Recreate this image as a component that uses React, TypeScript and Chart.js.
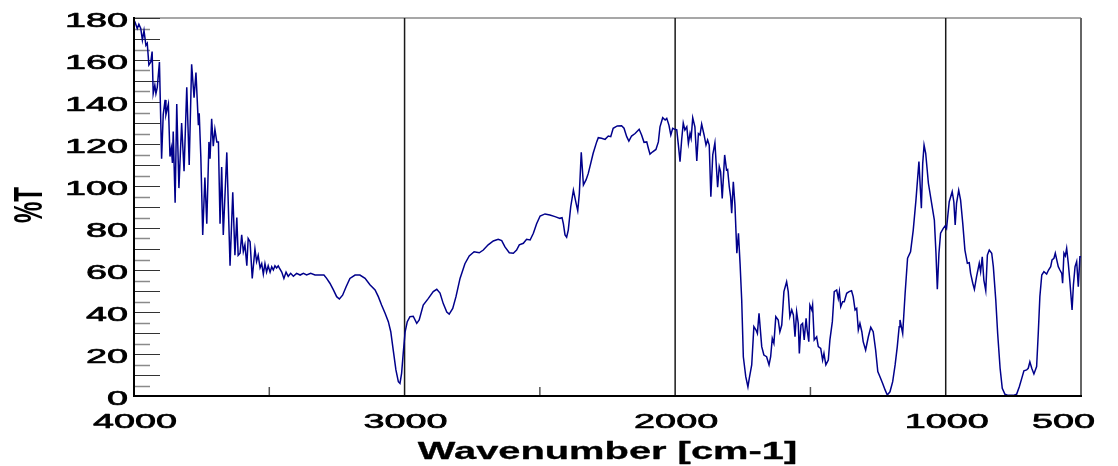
import React, { useEffect, useRef } from 'react';
import { Chart, registerables } from 'chart.js';

Chart.register(...registerables);

// Wavenumber (cm-1), descending
const wavenumbers = [
  4000, 3996, 3988, 3982, 3975, 3969, 3963, 3956, 3951, 3945, 3938, 3933, 3929, 3923, 3919, 3914, 3906, 3898, 3892, 3885,
  3882, 3873, 3867, 3862, 3858, 3855, 3848, 3842, 3834, 3824, 3815, 3805, 3796, 3787, 3778, 3771, 3762, 3759, 3753, 3746,
  3738, 3731, 3723, 3719, 3713, 3707, 3701, 3694, 3688, 3682, 3676, 3670, 3657, 3645, 3635, 3627, 3620, 3615, 3608, 3602,
  3596, 3590, 3583, 3578, 3571, 3563, 3553, 3547, 3541, 3534, 3528, 3522, 3516, 3510, 3504, 3497, 3491, 3485, 3479, 3473,
  3467, 3463, 3454, 3446, 3438, 3430, 3421, 3411, 3399, 3386, 3374, 3362, 3347, 3331, 3313, 3298, 3288, 3276, 3263, 3251,
  3241, 3229, 3216, 3202, 3183, 3165, 3146, 3128, 3109, 3097, 3085, 3072, 3060, 3051, 3042, 3032, 3023, 3017, 3011, 3005,
  2998, 2990, 2980, 2968, 2955, 2946, 2931, 2912, 2894, 2881, 2869, 2857, 2844, 2835, 2822, 2810, 2795, 2777, 2761, 2743,
  2724, 2709, 2691, 2672, 2654, 2641, 2629, 2613, 2598, 2586, 2576, 2561, 2549, 2536, 2524, 2512, 2499, 2481, 2463, 2444,
  2426, 2418, 2413, 2407, 2401, 2395, 2386, 2376, 2366, 2360, 2354, 2347, 2339, 2329, 2321, 2312, 2303, 2290, 2284, 2272,
  2259, 2247, 2238, 2229, 2214, 2198, 2189, 2179, 2171, 2161, 2148, 2133, 2124, 2115, 2105, 2099, 2093, 2083, 2071, 2062,
  2056, 2046, 2037, 2031, 2023, 2016, 2009, 2001, 1994, 1988, 1982, 1976, 1970, 1964, 1957, 1951, 1945, 1941, 1935, 1927,
  1920, 1914, 1908, 1902, 1893, 1886, 1880, 1874, 1868, 1861, 1853, 1843, 1837, 1832, 1826, 1817, 1810, 1806, 1800, 1795,
  1791, 1785, 1779, 1772, 1766, 1760, 1754, 1748, 1739, 1731, 1726, 1717, 1709, 1701, 1696, 1690, 1680, 1672, 1662, 1653,
  1647, 1641, 1635, 1628, 1619, 1613, 1606, 1598, 1588, 1582, 1576, 1569, 1563, 1557, 1551, 1545, 1541, 1535, 1529, 1523,
  1516, 1512, 1506, 1502, 1495, 1492, 1486, 1477, 1471, 1462, 1455, 1450, 1443, 1434, 1428, 1419, 1412, 1403, 1397, 1393,
  1388, 1381, 1375, 1366, 1357, 1348, 1342, 1335, 1329, 1323, 1317, 1310, 1305, 1296, 1286, 1277, 1268, 1259, 1251, 1243,
  1233, 1224, 1216, 1206, 1196, 1187, 1179, 1172, 1169, 1159, 1150, 1141, 1130, 1120, 1110, 1099, 1090, 1085, 1080, 1074,
  1064, 1052, 1042, 1036, 1031, 1025, 1019, 1009, 1002, 997, 987, 976, 970, 965, 960, 952, 945, 937, 929, 920,
  913, 908, 900, 894, 886, 876, 871, 865, 859, 852, 846, 839, 830, 824, 815, 808, 799, 791, 781, 769,
  750, 738, 728, 719, 711, 701, 695, 689, 682, 674, 664, 658, 652, 645, 637, 627, 620, 612, 607, 600,
  595, 590, 584, 578, 571, 568, 563, 558, 553, 547, 541, 533, 528, 522, 516, 510, 504, 500,
];

// %T values matching the wavenumbers above
const transmittance = [
  179, 178, 175, 177, 175, 169.5, 174, 167, 168, 157.6, 159, 164, 144, 148, 144, 147, 159, 113, 134, 141,
  134, 139, 114, 118, 111, 126, 92, 139, 99, 130, 107, 147, 110, 158, 142, 154, 129, 134.6, 114, 76.7,
  104, 82, 121, 113, 132, 119, 127, 121, 121, 82, 109, 76.7, 116, 62, 97, 67, 85, 67, 68, 76.7,
  68.7, 72, 62, 75, 73.5, 56, 70, 64, 67, 61, 63, 58, 63, 59, 62, 59, 61.5, 60, 62, 61,
  62, 61, 59, 56, 59, 57, 58.4, 57, 58.4, 57.6, 58.4, 57.6, 58.4, 57.6, 57.6, 57.6, 56, 53.7, 50.5, 47.3,
  46.2, 48, 52, 56, 57.6, 57.6, 56, 53, 50.5, 47.3, 43.3, 39.4, 35.4, 30.6, 22, 12.4, 6.8, 6, 10.8, 20.3,
  30.6, 35.4, 37.8, 38, 34.6, 36.2, 43.3, 46.5, 49.7, 50.8, 49, 44, 40, 39, 41.7, 47.3, 56, 63, 66.7, 68.7,
  68.2, 69.5, 72, 73.8, 74.6, 74, 71, 68.2, 68, 69.5, 72, 72.7, 74.6, 74.3, 77.5, 82, 85.7, 86.7, 86.2, 85.4,
  84.6, 84.9, 82, 76.7, 75.6, 79, 90, 98, 91.7, 88.2, 96.5, 116, 100.5, 103, 106, 110.8, 115.6, 121, 123, 122.7,
  122.2, 123.8, 123.5, 127.5, 128.6, 128.7, 127.5, 123.5, 121.4, 123.8, 125, 127, 124.3, 120.8, 121, 118, 115.2, 116.3, 117.4, 121,
  128.2, 132.5, 131.4, 132.2, 129, 124.3, 127.5, 127, 126.7, 119.5, 111.6, 121.9, 130, 126.7, 128.2, 120.3, 125, 122.7, 132.5, 128.2,
  111.9, 125, 124.3, 129.5, 124.3, 119.5, 121.9, 119.5, 94.9, 114.8, 120.6, 99.4, 109.2, 106.8, 94.1, 114.8, 107.6, 107.9, 99.7, 94.9,
  87, 102, 91, 68, 77.5, 63, 45.7, 18.7, 9.2, 4.3, 8.4, 14.8, 33, 31.4, 29.8, 39.4, 23.5, 19.5, 18.7, 14.8,
  18.7, 27.5, 25.1, 37.8, 36.2, 30.6, 33.8, 49.7, 54.4, 49.7, 37.8, 41, 38.6, 28.2, 40.1, 34.6, 20.3, 33.8, 34.6, 26.7,
  37, 31.4, 25.9, 43.3, 41, 43.3, 26.7, 28.2, 23.5, 22.7, 17.1, 20.3, 14.8, 17.1, 26.7, 35.4, 49.7, 50.5, 46.5, 49.7,
  42.5, 44.9, 44.9, 48.9, 49.7, 50.1, 47.3, 41, 41.7, 31.4, 34.6, 30.6, 25.9, 21.9, 28.2, 32.7, 30.6, 21.9, 11.6, 9.2,
  6, 2.9, 0.5, 2, 6.8, 14.8, 23.5, 33, 36.2, 29.8, 48.9, 65.6, 68.7, 79, 93.3, 111.6, 89.4, 110.8, 119.5, 115.6,
  101.3, 91.7, 83.8, 68, 50.8, 68, 77.5, 79.8, 81, 79.8, 92.5, 97.3, 92.5, 81.4, 91.7, 98, 93.3, 82.2, 69.5, 63.2,
  63.5, 58.4, 53.7, 50.8, 56.8, 63.2, 59.2, 66.3, 55.2, 50.2, 67.1, 69.5, 68, 61.6, 45.7, 29.8, 13.2, 3.7, 0.8, 0.3,
  0.3, 0.8, 4.4, 8.4, 12, 12.4, 13.2, 16.3, 13.2, 10.5, 14, 29.8, 47.3, 57.6, 59.2, 58.1, 60, 61.6, 64.8, 65.6,
  68, 65.1, 61.6, 60, 58.4, 53.7, 68, 66.7, 70.3, 63.2, 54.4, 41, 52.9, 61.6, 64, 52, 66.3, 66.3,
];

const yTickLabels = [0, 20, 40, 60, 80, 100, 120, 140, 160, 180];
const yMinorStep = 5;
const xTickLabels = [4000, 3000, 2000, 1000, 500];
const xGridLines = [3000, 2000, 1000];
const xMinorTicks = [3500, 2500, 1500];
const xTitle = 'Wavenumber [cm-1]';
const yTitle = '%T';

function stretchedText(
  ctx: CanvasRenderingContext2D,
  text: string,
  x: number,
  y: number,
  sx: number,
  align: CanvasTextAlign,
  font: string,
  strokeW: number,
) {
  ctx.save();
  ctx.translate(x, y);
  ctx.scale(sx, 1);
  ctx.font = font;
  ctx.fillStyle = '#000';
  ctx.strokeStyle = '#000';
  ctx.lineWidth = strokeW;
  ctx.lineJoin = 'round';
  ctx.textAlign = align;
  ctx.textBaseline = 'alphabetic';
  ctx.fillText(text, 0, 0);
  if (strokeW > 0) ctx.strokeText(text, 0, 0);
  ctx.restore();
}

const NUM_FONT = '21px "Liberation Sans", Arial, sans-serif';
const TITLE_FONT = 'bold 24px "Liberation Sans", Arial, sans-serif';

const irAxesPlugin = {
  id: 'irAxes',
  beforeDatasetsDraw(chart: any) {
    const { ctx, chartArea, scales } = chart;
    const { left, right, top, bottom } = chartArea;
    const x = scales.x;
    const y = scales.y;
    ctx.save();
    // top border
    ctx.strokeStyle = '#8a8a8a';
    ctx.lineWidth = 1.5;
    ctx.beginPath();
    ctx.moveTo(left, top);
    ctx.lineTo(right, top);
    ctx.stroke();
    // right border
    ctx.strokeStyle = '#666';
    ctx.lineWidth = 2;
    ctx.beginPath();
    ctx.moveTo(right, top);
    ctx.lineTo(right, bottom);
    ctx.stroke();
    // vertical grid lines
    ctx.strokeStyle = '#1a1a1a';
    ctx.lineWidth = 1.5;
    xGridLines.forEach((v) => {
      const px = x.getPixelForValue(v);
      ctx.beginPath();
      ctx.moveTo(px, top);
      ctx.lineTo(px, bottom);
      ctx.stroke();
    });
    // y tick marks (inside)
    const yMax = yTickLabels[yTickLabels.length - 1];
    for (let v = yTickLabels[0]; v <= yMax; v += yMinorStep) {
      const py = Math.round(y.getPixelForValue(v)) + 0.5;
      const major = v % 10 === 0;
      ctx.strokeStyle = major ? '#333' : '#8a8a8a';
      ctx.lineWidth = major ? 1 : 1.5;
      ctx.beginPath();
      ctx.moveTo(left, py);
      ctx.lineTo(left + (major ? 26 : 16), py);
      ctx.stroke();
    }
    // x minor ticks
    ctx.strokeStyle = '#555';
    ctx.lineWidth = 1.5;
    xMinorTicks.forEach((v) => {
      const px = x.getPixelForValue(v);
      ctx.beginPath();
      ctx.moveTo(px, bottom);
      ctx.lineTo(px, bottom - 9);
      ctx.stroke();
    });
    ctx.restore();
  },
  afterDatasetsDraw(chart: any) {
    const { ctx, chartArea, scales } = chart;
    const { left, right, top, bottom } = chartArea;
    const x = scales.x;
    const y = scales.y;
    ctx.save();
    // axes
    ctx.strokeStyle = '#000';
    ctx.lineWidth = 2;
    ctx.beginPath();
    ctx.moveTo(left, top - 1);
    ctx.lineTo(left, bottom);
    ctx.lineTo(right + 1, bottom);
    ctx.stroke();
    ctx.restore();

    // y tick labels
    yTickLabels.forEach((v) => {
      const py = y.getPixelForValue(v);
      stretchedText(ctx, String(v), left - 6, py + 9, 1.8, 'right', NUM_FONT, 0.7);
    });
    // x tick labels
    xTickLabels.forEach((v, i) => {
      const px = x.getPixelForValue(v);
      const last = i === xTickLabels.length - 1;
      stretchedText(ctx, String(v), last ? px + 14 : px + 1, bottom + 32, 1.8, last ? 'right' : 'center', NUM_FONT, 0.7);
    });
    // x title
    stretchedText(ctx, xTitle, (left + right) / 2, bottom + 63, 1.66, 'center', TITLE_FONT, 0.3);
    // y title (rotated)
    ctx.save();
    ctx.translate(42, (top + bottom) / 2 - 2);
    ctx.scale(1.7, 1);
    ctx.rotate(-Math.PI / 2);
    ctx.font = TITLE_FONT;
    ctx.fillStyle = '#000';
    ctx.textAlign = 'center';
    ctx.textBaseline = 'alphabetic';
    ctx.fillText(yTitle, 0, 0);
    ctx.restore();
  },
};

export default function App() {
  const canvasRef = useRef<HTMLCanvasElement | null>(null);

  useEffect(() => {
    const canvas = canvasRef.current;
    if (!canvas) return;
    const points = wavenumbers.map((w, i) => ({ x: w, y: transmittance[i] }));
    const chart = new Chart(canvas, {
      type: 'line',
      data: {
        datasets: [
          {
            label: '%T',
            data: points,
            borderColor: '#00008B',
            borderWidth: 1.5,
            pointRadius: 0,
            tension: 0,
            fill: false,
          },
        ],
      },
      options: {
        responsive: false,
        maintainAspectRatio: false,
        animation: false,
        devicePixelRatio: 1,
        layout: { padding: { left: 134, right: 37, top: 18, bottom: 70 } },
        plugins: { legend: { display: false }, tooltip: { enabled: false } },
        scales: {
          x: { type: 'linear', min: 500, max: 4000, reverse: true, display: false },
          y: { type: 'linear', min: 0, max: 180, display: false },
        },
      },
      plugins: [irAxesPlugin],
    });
    return () => chart.destroy();
  }, []);

  return (
    <div style={{ position: 'absolute', left: 0, top: 0, width: 1118, height: 466, background: '#fff' }}>
      <canvas ref={canvasRef} width={1118} height={466} style={{ display: 'block', width: 1118, height: 466 }} />
    </div>
  );
}
